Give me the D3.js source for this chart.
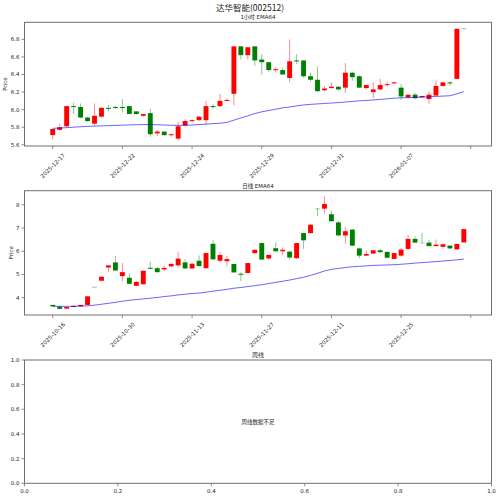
<!DOCTYPE html>
<html>
<head>
<meta charset="utf-8">
<script src="https://cdn.jsdelivr.net/npm/d3@7"></script>
<style>
  html, body { margin: 0; padding: 0; background: #fff; }
  svg { display: block; }
  text { font-family: "DejaVu Sans", "Noto Sans CJK SC", sans-serif; fill: #222; }
  .cjk { font-family: "Noto Sans CJK SC", "DejaVu Sans", sans-serif; }
</style>
</head>
<body>
<svg id="chart" width="500" height="497"></svg>
<script>
// 1 hour bars
const hourLabels = ["2025-12-17", "2025-12-22", "2025-12-24", "2025-12-29", "2025-12-31", "2026-01-07"];
const hourOpen  = [5.71, 5.77, 5.81, 6.04, 6.03, 5.91, 5.84, 5.92, 6.02, 6.03, 6.03, 6.04, 5.98, 5.93, 5.96, 5.73, 5.75, 5.71, 5.67, 5.82,
                   5.87, 5.88, 5.88, 6.04, 6.04, 6.10, 6.18, 6.72, 6.62, 6.72, 6.57, 6.54, 6.45, 6.45, 6.36, 6.56, 6.56, 6.38, 6.34, 6.22,
                   6.245, 6.26, 6.25, 6.42, 6.38, 6.245, 6.20, 6.23, 6.28, 6.30, 6.25, 6.14, 6.17, 6.14, 6.12, 6.16, 6.27, 6.31, 6.35, 6.925];
const hourHigh  = [5.78, 5.84, 6.04, 6.08, 6.07, 5.92, 6.07, 6.03, 6.05, 6.04, 6.12, 6.04, 5.98, 5.95, 6.01, 5.77, 5.75, 5.72, 5.86, 5.89,
                   5.89, 5.93, 6.10, 6.06, 6.18, 6.13, 6.72, 6.72, 6.71, 6.72, 6.63, 6.54, 6.48, 6.48, 6.80, 6.63, 6.56, 6.42, 6.49, 6.27,
                   6.31, 6.27, 6.53, 6.43, 6.39, 6.28, 6.31, 6.35, 6.32, 6.32, 6.29, 6.17, 6.19, 6.16, 6.21, 6.33, 6.32, 6.32, 6.92, 6.93];
const hourLow   = [5.66, 5.76, 5.80, 5.95, 5.90, 5.86, 5.82, 5.91, 5.98, 6.01, 5.97, 5.95, 5.94, 5.92, 5.69, 5.70, 5.70, 5.69, 5.65, 5.81,
                   5.86, 5.87, 5.83, 6.01, 6.03, 6.10, 6.05, 6.57, 6.57, 6.50, 6.40, 6.43, 6.42, 6.40, 6.31, 6.52, 6.36, 6.32, 6.20, 6.21,
                   6.24, 6.22, 6.19, 6.33, 6.25, 6.23, 6.13, 6.22, 6.26, 6.29, 6.11, 6.12, 6.12, 6.14, 6.06, 6.16, 6.26, 6.27, 6.35, 6.92];
const hourClose = [5.78, 5.80, 6.04, 6.03, 5.91, 5.87, 5.93, 6.02, 6.01, 6.02, 6.025, 5.95, 5.95, 5.95, 5.72, 5.75, 5.71, 5.72, 5.81, 5.87,
                   5.88, 5.92, 6.04, 6.03, 6.10, 6.11, 6.72, 6.62, 6.71, 6.56, 6.54, 6.45, 6.46, 6.40, 6.55, 6.55, 6.38, 6.34, 6.21, 6.24,
                   6.26, 6.23, 6.42, 6.37, 6.25, 6.28, 6.23, 6.28, 6.29, 6.31, 6.15, 6.17, 6.13, 6.155, 6.17, 6.27, 6.31, 6.30, 6.92, 6.925];
const hourEma   = [5.787, 5.79, 5.795, 5.80, 5.805, 5.81, 5.812, 5.815, 5.818, 5.82, 5.823, 5.826, 5.828, 5.83, 5.83, 5.828, 5.825, 5.822, 5.82, 5.822,
                   5.825, 5.83, 5.835, 5.84, 5.845, 5.855, 5.88, 5.905, 5.93, 5.955, 5.975, 5.99, 6.005, 6.02, 6.03, 6.043, 6.053, 6.06, 6.065, 6.07,
                   6.075, 6.08, 6.087, 6.093, 6.10, 6.105, 6.11, 6.117, 6.123, 6.13, 6.134, 6.137, 6.14, 6.143, 6.146, 6.15, 6.154, 6.158, 6.18, 6.205];

// daily bars
const dayLabels = ["2025-10-16", "2025-10-30", "2025-11-13", "2025-11-27", "2025-12-11", "2025-12-25"];
const dayOpen  = [3.69, 3.62, 3.53, 3.60, 3.63, 3.69, 4.47, 4.73, 5.30, 5.52, 4.93, 4.86, 4.51, 4.58, 5.29, 5.27, 5.22, 5.35, 5.39, 5.52,
                  5.26, 5.59, 5.27, 6.32, 5.59, 5.57, 5.45, 5.03, 5.06, 5.92, 6.35, 5.69, 6.13, 6.00, 5.98, 5.70, 6.78, 6.78, 7.84, 7.83,
                  7.59, 7.24, 6.68, 6.93, 6.12, 5.81, 5.90, 6.04, 5.97, 5.67, 5.81, 6.10, 6.53, 6.37, 6.37, 6.22, 6.19, 6.24, 6.08, 6.38];
const dayHigh  = [3.70, 3.63, 3.62, 3.66, 3.70, 4.07, 4.48, 4.91, 5.41, 5.80, 5.49, 5.05, 4.72, 5.17, 5.55, 5.34, 5.40, 5.50, 5.98, 5.65,
                  5.48, 5.82, 5.93, 6.49, 5.97, 5.81, 5.47, 5.10, 5.50, 6.08, 6.38, 5.86, 6.38, 6.17, 6.03, 6.36, 6.80, 7.16, 7.85, 8.36,
                  7.75, 7.30, 7.05, 6.95, 6.15, 6.03, 6.06, 6.10, 5.99, 5.93, 6.15, 6.71, 6.64, 6.80, 6.50, 6.50, 6.32, 6.26, 6.32, 6.96];
const dayLow   = [3.62, 3.50, 3.51, 3.59, 3.62, 3.68, 4.46, 4.72, 5.10, 5.15, 4.70, 4.59, 4.49, 4.56, 5.22, 5.08, 5.14, 5.28, 5.30, 5.25,
                  5.24, 5.35, 5.26, 5.63, 5.52, 5.34, 5.07, 4.72, 5.05, 5.86, 5.62, 5.62, 5.97, 5.82, 5.64, 5.67, 6.10, 6.76, 7.50, 7.61,
                  7.27, 6.65, 6.33, 6.22, 5.70, 5.79, 5.87, 5.93, 5.69, 5.66, 5.76, 6.02, 6.35, 6.36, 6.21, 6.20, 6.11, 6.11, 6.07, 6.37];
const dayClose = [3.63, 3.52, 3.60, 3.65, 3.69, 4.06, 4.47, 4.90, 5.39, 5.17, 5.10, 4.60, 4.68, 5.16, 5.26, 5.10, 5.28, 5.45, 5.68, 5.26,
                  5.46, 5.36, 5.92, 5.65, 5.84, 5.66, 5.09, 4.99, 5.49, 6.06, 5.64, 5.84, 6.00, 6.06, 5.73, 6.35, 6.47, 7.14, 7.84, 8.03,
                  7.29, 6.68, 6.86, 6.24, 5.81, 5.88, 6.04, 5.96, 5.72, 5.92, 6.07, 6.53, 6.37, 6.37, 6.22, 6.28, 6.30, 6.12, 6.31, 6.95];
const dayEma   = [3.63, 3.63, 3.63, 3.63, 3.64, 3.65, 3.68, 3.72, 3.76, 3.80, 3.85, 3.89, 3.92, 3.95, 3.98, 4.01, 4.05, 4.08, 4.12, 4.15,
                  4.18, 4.20, 4.24, 4.28, 4.32, 4.36, 4.41, 4.44, 4.48, 4.52, 4.56, 4.61, 4.66, 4.71, 4.76, 4.82, 4.88, 4.96, 5.05, 5.15,
                  5.22, 5.26, 5.30, 5.33, 5.35, 5.37, 5.39, 5.40, 5.41, 5.42, 5.44, 5.46, 5.49, 5.51, 5.53, 5.55, 5.58, 5.60, 5.63, 5.66];

const weekTicks = [0, 0.2, 0.4, 0.6, 0.8, 1.0];

const svg = d3.select('#chart');
const left = 24.5, right = 491.5;
const fs = 5.5;
const spine = '#707070';

// main title
svg.append('text')
    .attr('class', 'cjk')
    .attr('x', 250).attr('y', 10.5)
    .attr('text-anchor', 'middle')
    .style('font-size', '8.5px')
    .text('达华智能(002512)');

function frame(top, bottom) {
    svg.append('rect')
        .attr('x', left).attr('y', top)
        .attr('width', right - left).attr('height', bottom - top)
        .attr('fill', 'none')
        .attr('stroke', spine)
        .attr('stroke-width', 1);
}

function yAxis(y, ticks, fmt) {
    const g = svg.append('g');
    ticks.forEach(t => {
        const py = y(t);
        g.append('line')
            .attr('x1', left - 3).attr('x2', left)
            .attr('y1', py).attr('y2', py)
            .attr('stroke', spine).attr('stroke-width', 0.8);
        g.append('text')
            .attr('x', left - 5).attr('y', py)
            .attr('text-anchor', 'end')
            .attr('dominant-baseline', 'central')
            .style('font-size', fs + 'px')
            .text(fmt(t));
    });
}

// candle panel: 1h and daily share the same layout
function candlePanel(opts) {
    const { top, bottom, title, open, high, low, close, ema, labels } = opts;
    const idx = d3.range(open.length);

    const lo = d3.min(low), hi = d3.max(high);
    const pad = (hi - lo) * 0.05;
    const y = d3.scaleLinear().domain([lo - pad, hi + pad]).range([bottom, top]);
    const x = d3.scaleLinear().domain([-4.05, 62.97]).range([left, right]);
    const bw = x(0.7) - x(0);

    svg.append('text')
        .attr('x', (left + right) / 2).attr('y', top - 3.2)
        .attr('text-anchor', 'middle')
        .style('font-size', fs + 'px')
        .text(title);

    frame(top, bottom);

    const g = svg.append('g');
    const col = i => close[i] > open[i] ? '#ff0000' : '#008000';

    // wicks
    g.selectAll('.wick')
        .data(idx)
        .enter()
        .append('line')
        .attr('x1', i => x(i)).attr('x2', i => x(i))
        .attr('y1', i => y(high[i])).attr('y2', i => y(low[i]))
        .attr('stroke', col)
        .attr('stroke-opacity', 0.45)
        .attr('stroke-width', 1);

    // bodies
    g.selectAll('.body')
        .data(idx)
        .enter()
        .append('rect')
        .attr('x', i => x(i) - bw / 2)
        .attr('width', bw)
        .attr('y', i => Math.min(y(open[i]), y(close[i])))
        .attr('height', i => Math.max(Math.abs(y(open[i]) - y(close[i])), 1))
        .attr('fill', col)
        .attr('fill-opacity', i => open[i] === close[i] ? 0.35 : 1);

    // EMA64
    const line = d3.line().x(i => x(i)).y(i => y(ema[i]));
    g.append('path')
        .datum(idx)
        .attr('d', line)
        .attr('fill', 'none')
        .attr('stroke', '#0000ff')
        .attr('stroke-opacity', 0.6)
        .attr('stroke-width', 1);

    // y axis
    const yt = y.ticks(6);
    const step = yt[1] - yt[0];
    yAxis(y, yt, step < 1 ? d3.format('.1f') : d3.format('d'));

    svg.append('text')
        .attr('transform', `translate(${opts.labelX},${(top + bottom) / 2}) rotate(-90)`)
        .attr('text-anchor', 'middle')
        .style('font-size', fs + 'px')
        .text('Price');

    // x axis, one tick every 10 bars
    const xt = d3.range(0, 61, 10);
    xt.forEach((t, k) => {
        const px = x(t);
        svg.append('line')
            .attr('x1', px).attr('x2', px)
            .attr('y1', bottom).attr('y2', bottom + 3)
            .attr('stroke', spine).attr('stroke-width', 0.8);
        if (!labels[k]) return;
        const txt = svg.append('text')
            .attr('text-anchor', 'middle')
            .attr('dominant-baseline', 'central')
            .style('font-size', fs + 'px')
            .text(labels[k]);
        const len = txt.node().getComputedTextLength();
        const h = (len + fs) * Math.SQRT1_2;
        txt.attr('transform', `translate(${px},${bottom + 6.5 + h / 2}) rotate(-45)`);
    });
}

candlePanel({
    top: 22.3, bottom: 146, title: '1小时 EMA64', labelX: 6.5,
    open: hourOpen, high: hourHigh, low: hourLow, close: hourClose, ema: hourEma, labels: hourLabels
});

candlePanel({
    top: 190.7, bottom: 315, title: '日线 EMA64', labelX: 12.5,
    open: dayOpen, high: dayHigh, low: dayLow, close: dayClose, ema: dayEma, labels: dayLabels
});

// weekly panel: empty, data not enough
const wTop = 360, wBottom = 483.3;
const wx = d3.scaleLinear().domain([0, 1]).range([left, right]);
const wy = d3.scaleLinear().domain([0, 1]).range([wBottom, wTop]);

svg.append('text')
    .attr('class', 'cjk')
    .attr('x', (left + right) / 2).attr('y', wTop - 3.5)
    .attr('text-anchor', 'middle')
    .style('font-size', '6px')
    .text('周线');

frame(wTop, wBottom);
yAxis(wy, weekTicks, d3.format('.1f'));

weekTicks.forEach(t => {
    svg.append('line')
        .attr('x1', wx(t)).attr('x2', wx(t))
        .attr('y1', wBottom).attr('y2', wBottom + 3)
        .attr('stroke', spine).attr('stroke-width', 0.8);
    svg.append('text')
        .attr('x', wx(t)).attr('y', wBottom + 8)
        .attr('text-anchor', 'middle')
        .attr('dominant-baseline', 'central')
        .style('font-size', fs + 'px')
        .text(d3.format('.1f')(t));
});

svg.append('text')
    .attr('class', 'cjk')
    .attr('x', wx(0.5)).attr('y', wy(0.5))
    .attr('text-anchor', 'middle')
    .attr('dominant-baseline', 'central')
    .style('font-size', fs + 'px')
    .text('周线数据不足');
</script>
</body>
</html>
